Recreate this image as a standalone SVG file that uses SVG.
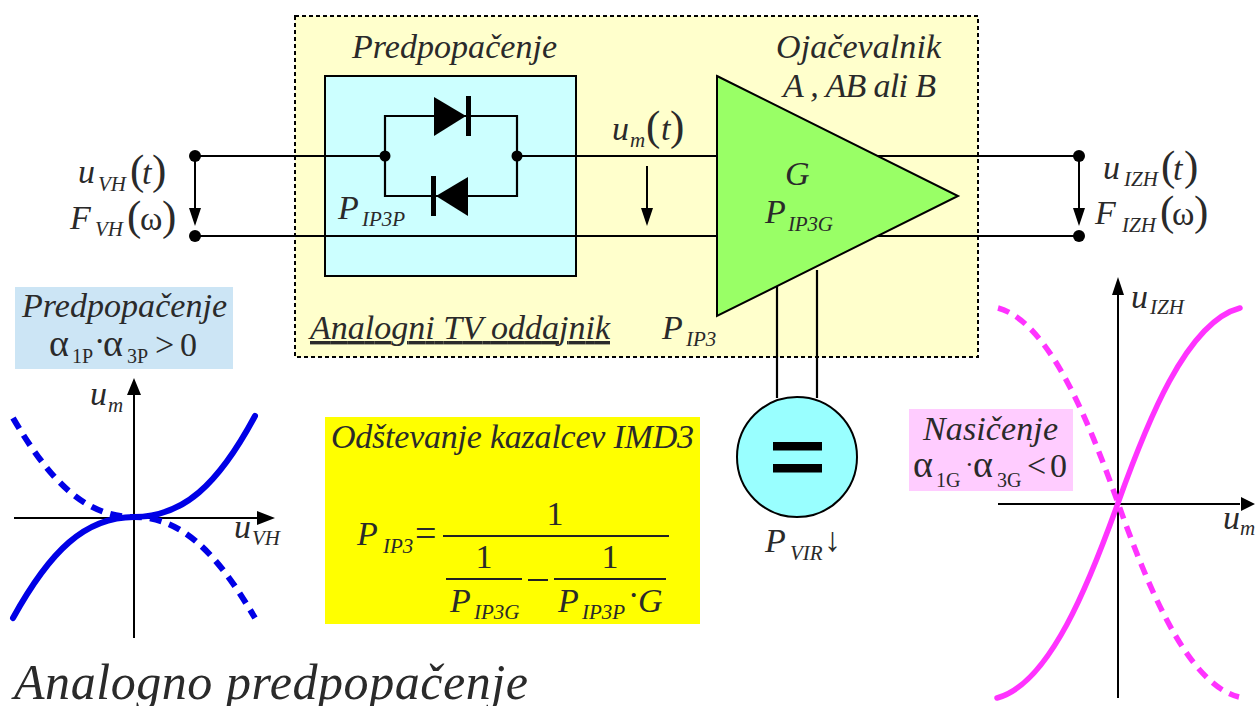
<svg xmlns="http://www.w3.org/2000/svg" width="1255" height="706" viewBox="0 0 1255 706">
<style>
text{font-family:"Liberation Serif","Times New Roman",serif;fill:#2a2a2a;font-style:italic;font-size:34px}
.n{font-style:normal}
.s{font-size:21px}
.ss{font-size:20px;font-style:normal}
.p{font-size:43px;font-style:normal}
.al{font-size:38px;font-style:normal}
.w{fill:none;stroke:#000;stroke-width:2.2}
.a{fill:none;stroke:#000;stroke-width:2}
.ff{fill:#000;stroke:none}
.b{fill:none;stroke:#0000e6;stroke-width:6;stroke-linecap:round}
.bd{fill:none;stroke:#0000e6;stroke-width:6;stroke-dasharray:12 8}
.m{fill:none;stroke:#ff33ff;stroke-width:5.5;stroke-linecap:round}
.md{fill:none;stroke:#ff33ff;stroke-width:5.5;stroke-dasharray:12 8}
.l{stroke:#222;stroke-width:2;fill:none}
</style>
<rect width="1255" height="706" fill="#fff"/>
<g id="transmitter"><rect x="295" y="16" width="683" height="341" fill="#ffffcc" stroke="#000" stroke-width="2" stroke-dasharray="4 3"/></g>
<g id="predistorter"><rect x="325" y="76" width="251" height="200" fill="#ccffff" stroke="#000" stroke-width="2"/></g>
<g id="connectors">
<path class="w" d="M195 156H385M517 156H717M195 236H717M878 156H1079M878 236H1079M777 286V398M817 270V398"/>
<path class="w" d="M385 156V116H517V156M385 156V196H517V156"/>
<path class="a" d="M195 160V212M647 166V212M1079 160V212"/>
<path class="ff" d="M189 208h12l-6 18zM641 208h12l-6 18zM1073 208h12l-6 18z"/>
<g class="ff"><circle cx="195" cy="156" r="6"/><circle cx="195" cy="236" r="6"/><circle cx="1079" cy="156" r="6"/><circle cx="1079" cy="236" r="6"/><circle cx="385" cy="156" r="5.5"/><circle cx="517" cy="156" r="5.5"/></g>
</g>
<g id="diode-top"><path class="ff" d="M434 97L466 116L434 136z"/><rect x="466" y="96" width="5" height="40" class="ff"/></g>
<g id="diode-bottom"><path class="ff" d="M468 177L436 196L468 216z"/><rect x="431" y="176" width="5" height="40" class="ff"/></g>
<g id="amplifier"><path d="M717 76L958 196L717 316z" fill="#99ff66" stroke="#000" stroke-width="2"/></g>
<g id="supply"><circle cx="797" cy="457" r="60" fill="#99ffff" stroke="#000" stroke-width="2"/><rect x="773" y="442" width="49" height="8.5" class="ff"/><rect x="773" y="464" width="49" height="8.5" class="ff"/></g>
<g id="labels">
<text x="352" y="58" textLength="205">Predpopačenje</text>
<text x="776" y="58" textLength="165">Ojačevalnik</text>
<text x="783" y="97" textLength="153">A , AB ali B</text>
<text x="612" y="140">u</text><text class="s" x="630" y="147">m</text><text class="p" x="646" y="140">(</text><text x="661" y="140">t</text><text class="p" x="670" y="140">)</text>
<text x="338" y="219">P</text><text class="s" x="362" y="226">IP3P</text>
<text x="785" y="185">G</text>
<text x="765" y="223">P</text><text class="s" x="788" y="231" textLength="45">IP3G</text>
<text x="662" y="339">P</text><text class="s" x="686" y="346">IP3</text>
<text x="310" y="339" text-decoration="underline" textLength="300">Analogni TV oddajnik</text>
<text x="78" y="183">u</text><text class="s" x="98" y="191">VH</text><text class="p" x="130" y="184">(</text><text x="142" y="184">t</text><text class="p" x="152" y="184">)</text>
<text x="70" y="229">F</text><text class="s" x="95" y="236">VH</text><text class="p" x="127" y="230">(</text><text class="n" x="140" y="230">ω</text><text class="p" x="162" y="230">)</text>
<text x="1103" y="179">u</text><text class="s" x="1124" y="186">IZH</text><text class="p" x="1161" y="180">(</text><text x="1173" y="180">t</text><text class="p" x="1184" y="180">)</text>
<text x="1095" y="224">F</text><text class="s" x="1122" y="232">IZH</text><text class="p" x="1160" y="225">(</text><text class="n" x="1172" y="225">ω</text><text class="p" x="1194" y="225">)</text>
<text x="765" y="552">P</text><text class="s" x="790" y="560">VIR</text><text class="n" x="824" y="551">↓</text>
</g>
<g id="predist-note"><rect x="15" y="287" width="218" height="82" fill="#cce5f5"/>
<text x="22" y="317" textLength="205">Predpopačenje</text>
<text class="al" x="49" y="356">α</text><text class="ss" x="72" y="363">1P</text><text class="n" x="94" y="352">·</text><text class="al" x="103" y="356">α</text><text class="ss" x="127" y="363">3P</text><text class="n" x="155" y="356">&gt;</text><text class="n" x="180" y="356">0</text></g>
<g id="predist-plot">
<path class="a" d="M14 518H262M134 638V392"/><path class="ff" d="M127 395L134 378L141 395zM257 511L275 518L257 525z"/>
<path class="bd" d="M13 418C50 481 85 517 134 517C183 517 218 555 255 618"/>
<path class="b" d="M13 618C50 551 85 517 134 517C183 517 218 485 255 416"/>
<text x="90" y="405">u</text><text class="s" x="108" y="412">m</text>
<text x="234" y="538">u</text><text class="s" x="252" y="545">VH</text>
</g>
<g id="imd-note"><rect x="325" y="417" width="375" height="207" fill="#ffff00"/>
<text x="331" y="448" textLength="363">Odštevanje kazalcev IMD3</text>
<text x="357" y="545">P</text><text class="s" x="383" y="553">IP3</text>
<text class="n" x="415" y="546" style="font-size:38px">=</text>
<text class="n" x="555" y="525" text-anchor="middle">1</text>
<text class="n" x="484" y="568" text-anchor="middle">1</text>
<text class="n" x="610" y="568" text-anchor="middle">1</text>
<path class="l" d="M443 536H669M446 579H522M554 579H666M528 580H548"/>
<text x="450" y="612">P</text><text class="s" x="474" y="619">IP3G</text>
<text x="558" y="612">P</text><text class="s" x="582" y="619">IP3P</text><text class="n" x="628" y="606">·</text><text x="638" y="612">G</text>
</g>
<g id="sat-note"><rect x="909" y="409" width="164" height="82" fill="#ffccff"/>
<text x="923" y="440" textLength="135">Nasičenje</text>
<text class="al" x="913" y="477">α</text><text class="ss" x="936" y="487">1G</text><text class="n" x="965" y="473" style="font-size:26px">·</text><text class="al" x="973" y="477">α</text><text class="ss" x="997" y="487">3G</text><text class="n" x="1027" y="477">&lt;</text><text class="n" x="1050" y="477">0</text></g>
<g id="sat-plot">
<path class="a" d="M998 504H1240M1118 698V290"/><path class="ff" d="M1112 295L1118 277L1124 295zM1241 497L1255 504L1241 511z"/>
<path class="md" d="M998 308C1050 322 1090 425 1118 503C1146 581 1186 684 1239 697"/>
<path class="m" d="M997 698C1050 684 1090 581 1118 503C1146 425 1186 322 1240 308"/>
<text x="1131" y="308">u</text><text class="s" x="1150" y="314">IZH</text>
<text x="1223" y="529">u</text><text class="s" x="1240" y="535">m</text>
</g>
<text x="14" y="699" style="font-size:50px" textLength="514">Analogno predpopačenje</text>
</svg>
